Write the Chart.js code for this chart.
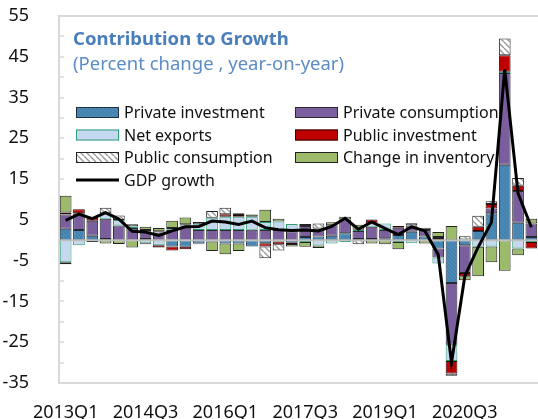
<!DOCTYPE html>
<html><head><meta charset="utf-8">
<script src="https://cdn.jsdelivr.net/npm/chart.js@4.4.1/dist/chart.umd.min.js"></script>
<style>html,body{margin:0;padding:0;background:#fff}canvas{display:block}</style>
</head><body>
<canvas id="c" width="538" height="419"></canvas>
<script>
const quarters = ['2013Q1','2013Q2','2013Q3','2013Q4','2014Q1','2014Q2','2014Q3','2014Q4',
  '2015Q1','2015Q2','2015Q3','2015Q4','2016Q1','2016Q2','2016Q3','2016Q4',
  '2017Q1','2017Q2','2017Q3','2017Q4','2018Q1','2018Q2','2018Q3','2018Q4',
  '2019Q1','2019Q2','2019Q3','2019Q4','2020Q1','2020Q2','2020Q3','2020Q4',
  '2021Q1','2021Q2','2021Q3','2021Q4'];
const xTickLabels = ['2013Q1','2014Q3','2016Q1','2017Q3','2019Q1','2020Q3'];
const yTickLabels = [55,45,35,25,15,5,-5,-15,-25,-35];

const privateInvestment = [2.8,2.5,1.1,0.3,0,0,0.3,0,-1.5,-1.6,-0.8,-0.3,-0.8,-0.8,-1.5,-0.7,-0.3,-0.6,0.8,0.9,1.1,1.7,0.3,0.3,0.5,1.3,2.1,0.9,-2.0,-10.5,-1.2,2.3,6.6,18.5,4.3,0.8];
const privateConsumption = [3.5,4.1,3.7,5.0,3.6,3.0,1.8,1.6,2.5,3.4,2.5,2.5,2.5,2.5,2.6,2.5,2.5,2.2,2.7,2.0,2.6,3.4,2.0,3.0,2.0,1.8,1.5,1.6,-2.2,-15.1,-6.8,0,1.2,22.5,7.8,3.3];
const netExports = [-5.4,-1.2,0,1.3,1.4,0.4,-0.7,-1.2,0.2,0.2,1.4,3.0,3.3,3.3,3.2,2.0,2.1,1.8,-0.4,-1.3,-0.8,-0.4,0.3,0.8,1.6,-0.4,-0.7,0,-1.5,-4.0,0.2,-1.6,-1.5,0.3,-2.0,-0.4];
const publicInvestment = [0.5,1.0,0.9,0,0,0,-0.3,-0.6,-1.0,-0.6,-0.2,0,0.6,0.4,0,-0.8,-0.7,-0.3,0,0,0,0,0,1.0,0,0.4,0,0,0.3,-3.1,-0.8,1.0,1.1,4.1,1.3,-1.6];
const publicConsumption = [-0.5,0,0,1.4,1.1,0.5,0.4,0.6,0.3,0.3,0.6,1.7,1.6,0.4,0,-2.9,-1.5,0,0.5,1.2,0,0,-1.0,0,0,0,0.6,0.6,0.5,-0.5,0.8,2.7,0.7,4.1,1.9,0];
const changeInInventory = [4.1,0,-0.4,-0.8,-0.9,-1.8,0.8,0.8,1.8,1.7,0,-2.3,-2.6,-1.8,0.5,3.0,0.7,-0.6,-1.2,-0.6,0.7,0.7,1.2,-0.8,-1.0,-1.8,0,-0.8,1.2,3.5,-1.0,-7.2,-3.9,-7.5,-1.7,1.2];
const gdpGrowth = [4.9,6.4,5.3,6.8,5.2,2.2,2.0,1.2,2.3,3.3,3.4,4.7,4.5,3.9,4.7,3.1,2.6,2.4,2.5,2.3,3.4,5.4,2.7,4.5,2.9,1.4,3.3,2.3,-3.5,-30.0,-8.8,-1.7,4.4,41.9,11.5,3.2];

const titleText = 'Contribution to Growth';
const subtitleText = '(Percent change , year-on-year)';

function hatch(bg, fg, size, lw) {
  const c = document.createElement('canvas');
  c.width = size; c.height = size;
  const g = c.getContext('2d');
  g.fillStyle = bg; g.fillRect(0, 0, size, size);
  g.strokeStyle = fg; g.lineWidth = lw;
  g.beginPath();
  [-size, 0, size].forEach(k => { g.moveTo(k, 0); g.lineTo(k + size, size); });
  g.stroke();
  return g.createPattern(c, 'repeat');
}
const piFill = hatch('#4a89b6', '#417ea9', 4, 1);
const pcFill = hatch('#ffffff', '#9a9a9a', 6, 1.4);

Chart.defaults.font.family = "'Noto Sans', sans-serif";
Chart.defaults.color = '#111';

const barCommon = { stack: 'c', borderWidth: 1, borderSkipped: false, barPercentage: 0.88, categoryPercentage: 1 };

const decor = {
  id: 'decor',
  beforeDatasetsDraw(chart) {
    const {ctx, chartArea: a, scales: {y}} = chart;
    ctx.save();
    ctx.strokeStyle = '#d9d9d9'; ctx.lineWidth = 2;
    ctx.beginPath();
    ctx.moveTo(a.right, a.top); ctx.lineTo(a.left, a.top); ctx.lineTo(a.left, a.bottom); ctx.lineTo(a.right, a.bottom);
    ctx.stroke();
    ctx.lineWidth = 1.5;
    y.ticks.forEach(t => {
      const py = Math.round(y.getPixelForValue(t.value));
      ctx.beginPath(); ctx.moveTo(a.left, py); ctx.lineTo(a.left + 5, py); ctx.stroke();
    });
    ctx.restore();
  },
  beforeDatasetDraw(chart, args) {
    if (chart.data.datasets[args.index].type !== 'line') return;
    const {ctx, chartArea: a, scales: {y}} = chart;
    const py = y.getPixelForValue(0);
    ctx.save();
    ctx.strokeStyle = '#bfbfbf'; ctx.lineWidth = 2;
    ctx.beginPath(); ctx.moveTo(a.left, py); ctx.lineTo(a.right, py); ctx.stroke();
    ctx.restore();
  },
  afterDraw(chart) {
    const {ctx} = chart;
    ctx.save();
    ctx.textBaseline = 'alphabetic';
    ctx.fillStyle = '#4a7ebb';
    ctx.font = "bold 18.5px 'Noto Sans'";
    ctx.fillText(titleText, 73, 45);
    ctx.fillStyle = '#5b8cc6';
    ctx.font = "18.5px 'Noto Sans'";
    ctx.fillText(subtitleText, 73, 70);
    const cols = [76, 295];
    chart.data.datasets.forEach((ds, i) => {
      const col = i % 2, row = Math.floor(i / 2);
      const bx = cols[col], cy = 112.5 + row * 22.5;
      if (ds.type === 'line') {
        ctx.strokeStyle = ds.borderColor; ctx.lineWidth = 3;
        ctx.beginPath(); ctx.moveTo(bx, cy); ctx.lineTo(bx + 43, cy); ctx.stroke();
      } else {
        ctx.fillStyle = ds.backgroundColor;
        ctx.fillRect(bx, cy - 5.5, 43, 11);
        ctx.strokeStyle = ds.borderColor; ctx.lineWidth = 1;
        ctx.strokeRect(bx + 0.5, cy - 5, 42, 10);
      }
      ctx.fillStyle = '#111';
      ctx.font = "16px 'Noto Sans'";
      ctx.textBaseline = 'middle';
      ctx.fillText(ds.label, bx + 48, cy + 1);
    });
    ctx.restore();
  }
};

new Chart(document.getElementById('c'), {
  type: 'bar',
  data: {
    labels: quarters,
    datasets: [
      {...barCommon, label: 'Private investment', data: privateInvestment, backgroundColor: piFill, borderColor: '#1f2f3f'},
      {...barCommon, label: 'Private consumption', data: privateConsumption, backgroundColor: '#7a5e9e', borderColor: '#2a2a2a'},
      {...barCommon, label: 'Net exports', data: netExports, backgroundColor: '#c6d8f0', borderColor: '#2e9e77'},
      {...barCommon, label: 'Public investment', data: publicInvestment, backgroundColor: '#c00000', borderColor: '#2a0a0a'},
      {...barCommon, label: 'Public consumption', data: publicConsumption, backgroundColor: pcFill, borderColor: '#222'},
      {...barCommon, label: 'Change in inventory', data: changeInInventory, backgroundColor: '#9bbb6a', borderColor: '#222'},
      {type: 'line', stack: 'g', order: -1, label: 'GDP growth', data: gdpGrowth, borderColor: '#000', borderWidth: 3, pointRadius: 0, tension: 0, fill: false}
    ]
  },
  options: {
    responsive: false,
    devicePixelRatio: 1,
    animation: false,
    layout: {autoPadding: false, padding: {top: 16, right: 0, left: 0, bottom: 0}},
    plugins: {legend: {display: false}, title: {display: false}, tooltip: {enabled: false}},
    scales: {
      x: {
        stacked: true,
        grid: {display: false},
        border: {display: false},
        afterFit: s => { s.height = 36; s.paddingLeft = 0; s.paddingRight = 0; },
        ticks: {
          autoSkip: false, maxRotation: 0, minRotation: 0, padding: 11,
          font: {size: 18}, color: '#111',
          callback: function(v) { const q = this.getLabelForValue(v); return xTickLabels.includes(q) ? q : ''; }
        }
      },
      y: {
        stacked: true,
        min: -35, max: 55,
        grid: {display: false},
        border: {display: false},
        afterFit: s => { s.width = 59; s.paddingTop = 0; s.paddingBottom = 0; },
        ticks: {
          stepSize: 5, autoSkip: false, padding: 22,
          font: {size: 18}, color: '#111',
          callback: v => yTickLabels.includes(v) ? String(v) : ''
        }
      }
    }
  },
  plugins: [decor]
});
</script>
</body></html>
